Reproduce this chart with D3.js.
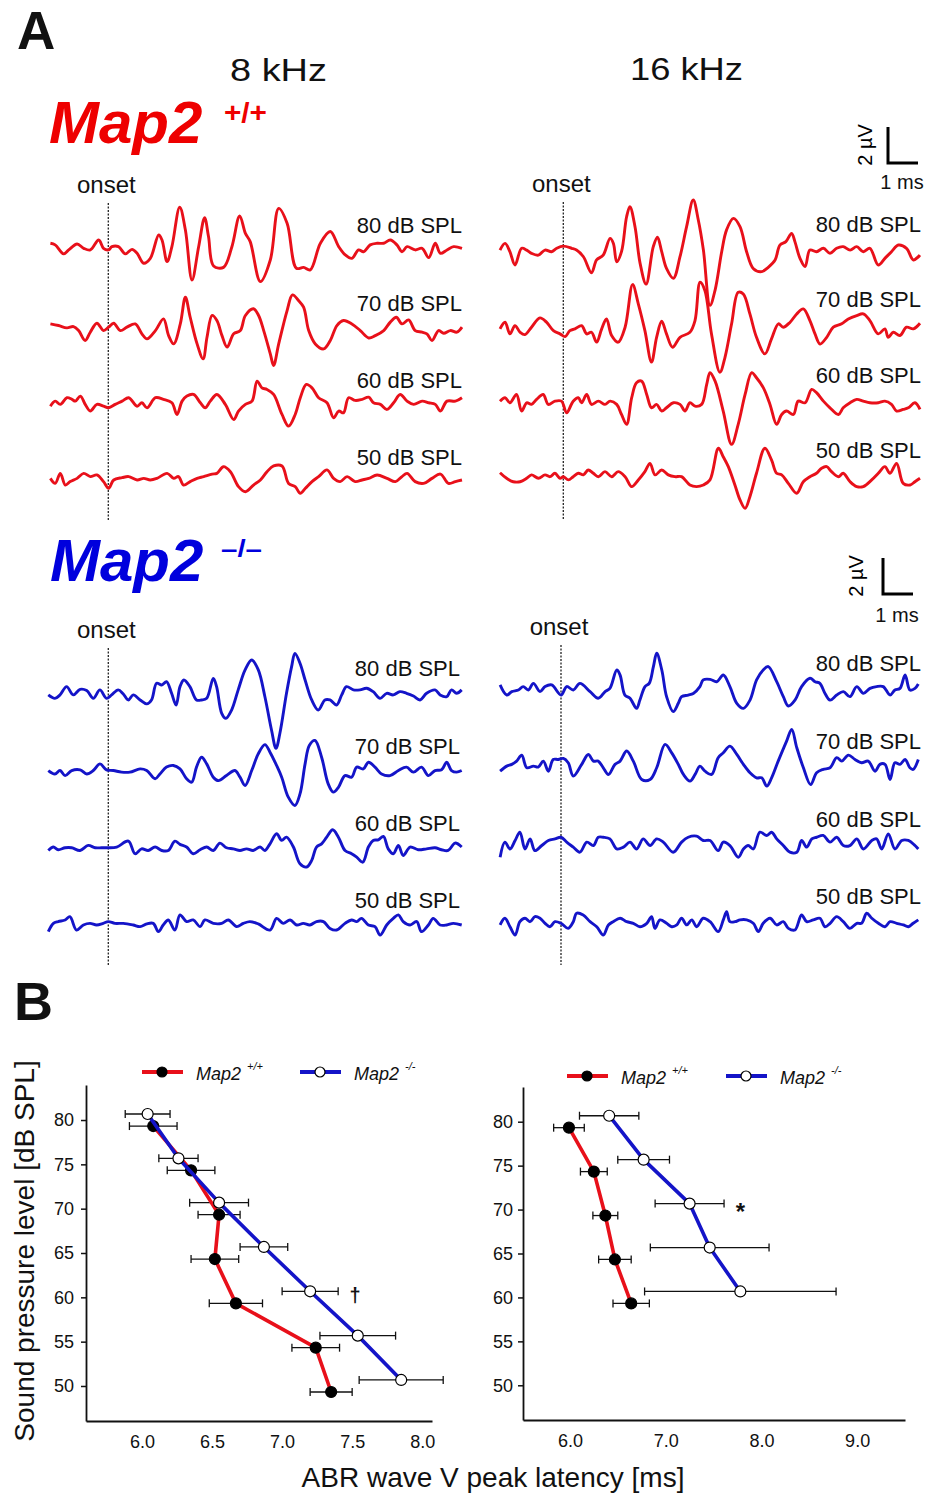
<!DOCTYPE html>
<html>
<head>
<meta charset="utf-8">
<title>Map2 ABR traces and wave V latency</title>
<style>
  body { margin: 0; background: #fff; }
  svg { display: block; font-family: "Liberation Sans", Arial, sans-serif; }
</style>
</head>
<body>
<script src="https://d3js.org/d3.v7.min.js"></script>
<script>
// ---------- panel A: ABR traces, [time ms from onset, amplitude uV] ----------
var levels = [80, 70, 60, 50];

var wt8_80 = [[-1.93,0.28],[-1.77,0.19],[-1.49,-0.31],[-1.32,-0.09],[-1.04,0.24],[-0.82,0],[-0.6,-0.09],[-0.32,0.46],[-0.16,0],[0.01,-0.09],[0.12,0.09],[0.34,0.09],[0.57,-0.31],[0.79,-0.06],[0.96,-0.28],[1.18,-0.83],[1.4,-0.56],[1.68,0.74],[1.79,0.46],[1.96,-0.74],[2.12,0.09],[2.38,2.28],[2.57,1.02],[2.79,-1.76],[3.01,0.07],[3.21,1.7],[3.34,0.65],[3.51,-0.98],[3.84,-1.06],[4.12,0.09],[4.38,1.8],[4.57,0.83],[4.73,0.37],[5.07,-1.85],[5.4,-0.65],[5.68,2.22],[5.96,1.39],[6.27,-1.11],[6.51,-1.06],[6.73,-1.2],[7.07,0.28],[7.4,0.93],[7.68,0.09],[7.9,-0.37],[8.12,-0.56],[8.34,-0.09],[8.51,-0.19],[8.73,0.19],[8.96,0.28],[9.18,0.28],[9.4,0.46],[9.62,0.19],[9.79,-0.19],[9.96,0.09],[10.23,-0.09],[10.46,0],[10.68,-0.52],[10.9,0.28],[11.07,-0.28],[11.29,-0.09],[11.51,0.09],[11.79,0]];
var wt8_70 = [[-1.93,0.09],[-1.66,0],[-1.38,-0.13],[-1.16,-0.06],[-0.99,-0.28],[-0.77,-0.83],[-0.6,-0.37],[-0.38,0.13],[-0.16,-0.28],[0.01,-0.09],[0.18,0.13],[0.4,-0.28],[0.62,-0.09],[0.9,0.09],[1.12,-0.46],[1.29,-0.74],[1.57,-0.28],[1.84,0.37],[2.01,-0.56],[2.18,-1.02],[2.4,0.09],[2.57,1.57],[2.73,0.46],[2.96,-1.02],[3.16,-1.85],[3.29,-0.65],[3.46,0.56],[3.62,0.28],[3.79,-0.56],[3.96,-1.2],[4.18,-0.46],[4.4,-0.28],[4.57,0.56],[4.84,0.93],[5.01,0.56],[5.18,-0.28],[5.4,-1.57],[5.51,-2.22],[5.68,-1.02],[5.96,0.83],[6.14,1.7],[6.34,1.39],[6.51,1.02],[6.68,-0.28],[6.9,-1.02],[7.18,-1.3],[7.4,-0.83],[7.62,0],[7.84,0.28],[8.12,0.09],[8.4,-0.28],[8.68,-0.69],[8.9,-0.56],[9.18,-0.28],[9.4,0.19],[9.6,0.46],[9.79,0.09],[10.01,0.31],[10.23,-0.28],[10.46,-0.37],[10.62,-0.46],[10.79,-0.83],[11.01,-0.28],[11.18,-0.43],[11.4,-0.28],[11.62,-0.37],[11.79,-0.09]];
var wt8_60 = [[-1.93,-0.19],[-1.77,0.09],[-1.6,-0.09],[-1.38,0.28],[-1.21,0.19],[-1.1,0.09],[-0.93,0.37],[-0.77,-0.09],[-0.6,-0.46],[-0.38,-0.09],[-0.16,-0.19],[0.01,-0.28],[0.23,-0.09],[0.46,0.09],[0.68,0.28],[0.96,-0.19],[1.12,0],[1.29,-0.28],[1.57,0.28],[1.84,0.19],[2.12,0],[2.29,-0.65],[2.46,0.09],[2.62,0.37],[2.84,0.46],[3.07,0],[3.23,-0.28],[3.4,0.09],[3.62,0.46],[3.9,-0.09],[4.18,-0.93],[4.34,-0.46],[4.57,-0.09],[4.79,0.09],[4.96,1.2],[5.12,0.83],[5.29,0.74],[5.51,0.46],[5.79,-0.65],[6.01,-1.3],[6.23,-0.65],[6.4,0.28],[6.6,1.02],[6.79,0.83],[7.01,0.28],[7.29,0],[7.51,-0.83],[7.68,-0.46],[7.84,-0.56],[8.01,0.28],[8.23,0.13],[8.46,0.19],[8.68,0.31],[8.84,0],[9.07,-0.09],[9.29,-0.37],[9.51,0],[9.73,0.46],[9.96,0.09],[10.18,-0.09],[10.46,0.09],[10.68,0],[10.9,-0.09],[11.07,-0.46],[11.29,0.09],[11.57,0.09],[11.79,0.28]];
var wt8_50 = [[-1.93,0.09],[-1.77,-0.19],[-1.6,0.37],[-1.43,-0.28],[-1.27,-0.09],[-1.04,0.09],[-0.82,0.37],[-0.6,0.19],[-0.38,0.28],[-0.16,-0.09],[0.01,-0.46],[0.18,0],[0.46,0.13],[0.68,0.19],[0.96,0],[1.18,0.09],[1.4,0],[1.62,0.09],[1.96,0.37],[2.18,0.09],[2.34,0.19],[2.51,-0.28],[2.73,-0.09],[2.96,0.09],[3.18,0.19],[3.46,0.33],[3.62,0.37],[3.84,0.74],[4.07,0.46],[4.34,-0.37],[4.57,-0.65],[4.84,-0.28],[5.07,0],[5.29,0.46],[5.51,0.78],[5.79,0.78],[6.01,-0.19],[6.23,-0.37],[6.4,-0.74],[6.57,-0.46],[6.79,-0.09],[7.01,0.19],[7.29,0.56],[7.51,0.09],[7.73,-0.09],[7.96,0.19],[8.23,-0.09],[8.46,0],[8.68,0.09],[8.96,0.28],[9.29,0.09],[9.57,-0.09],[9.79,0.19],[9.96,0.37],[10.23,-0.09],[10.51,-0.19],[10.79,0.09],[11.07,0.33],[11.34,-0.19],[11.57,-0.09],[11.79,0]];

var wt16_80 = [[-2.11,0.09],[-1.94,0.46],[-1.78,0],[-1.61,-0.74],[-1.39,0.19],[-1.22,0.09],[-1.06,-0.09],[-0.83,-0.19],[-0.61,0.09],[-0.39,0],[-0.22,0.19],[0,0.31],[0.28,0.19],[0.44,0.09],[0.67,-0.28],[0.94,-1.17],[1.11,-0.46],[1.33,-0.19],[1.56,0.74],[1.67,0.46],[1.78,-0.56],[1.94,0],[2.11,1.94],[2.22,2.5],[2.39,1.39],[2.56,-0.65],[2.76,-1.8],[3,0.28],[3.14,0.8],[3.28,0],[3.44,-0.93],[3.67,-1.48],[3.89,-0.28],[4.11,1.39],[4.33,2.87],[4.5,1.76],[4.67,0.09],[4.89,-2.98],[5.06,-2.13],[5.28,0],[5.44,1.2],[5.67,1.85],[5.89,1.39],[6.11,0],[6.33,-0.93],[6.61,-1.11],[6.83,-0.87],[7.06,-0.46],[7.22,0.37],[7.42,0.56],[7.61,1.02],[7.72,0.56],[7.89,-0.37],[8.06,-0.83],[8.22,0.09],[8.44,0],[8.67,0.19],[8.89,-0.09],[9.11,0.19],[9.33,0.28],[9.56,0.09],[9.78,0.28],[10,0],[10.22,0.19],[10.5,-0.74],[10.72,-0.37],[10.94,0],[11.17,0.37],[11.44,0.19],[11.67,-0.46],[11.89,-0.19]];
var wt16_70 = [[-2.11,-0.09],[-1.94,0.28],[-1.78,-0.37],[-1.61,0.09],[-1.44,-0.28],[-1.28,-0.41],[-1.06,0],[-0.78,0.52],[-0.56,0.28],[-0.33,-0.19],[-0.11,-0.37],[0.06,-0.52],[0.22,-0.19],[0.39,-0.09],[0.61,0.09],[0.78,-0.37],[0.94,-0.28],[1.11,-0.83],[1.28,-0.09],[1.44,0.46],[1.61,-0.46],[1.83,-0.83],[2.06,0],[2.31,2.37],[2.5,1.3],[2.72,-0.19],[2.94,-1.94],[3.11,-0.56],[3.28,0.33],[3.44,-0.37],[3.64,-1.11],[3.89,-0.56],[4.22,-0.28],[4.39,0.37],[4.56,2.5],[4.72,2.04],[4.94,-0.37],[5.22,-2.5],[5.39,-1.67],[5.61,0.19],[5.83,1.94],[6,1.85],[6.22,0.74],[6.44,-0.56],[6.72,-1.48],[6.94,-0.65],[7.17,0.19],[7.33,0],[7.56,0.28],[7.78,0.74],[8,1.02],[8.22,0.37],[8.39,-0.37],[8.56,-0.93],[8.78,-0.56],[9,0],[9.28,0.19],[9.5,0.46],[9.78,0.65],[10,0.74],[10.22,0.37],[10.5,-0.37],[10.72,-0.09],[10.83,-0.56],[11,-0.28],[11.22,-0.46],[11.44,0],[11.67,-0.09],[11.89,0.22]];
var wt16_60 = [[-2.11,0.09],[-1.94,0.28],[-1.78,0],[-1.56,0.46],[-1.39,-0.46],[-1.22,0],[-1.06,-0.09],[-0.89,0.19],[-0.67,0.46],[-0.5,-0.09],[-0.28,0.09],[-0.06,0.09],[0.11,-0.56],[0.33,0.09],[0.5,0.28],[0.61,0],[0.78,0.46],[0.94,-0.09],[1.17,0.09],[1.39,-0.09],[1.56,0.09],[1.78,-0.09],[1.94,-0.65],[2.11,-1.2],[2.28,0.28],[2.44,1.11],[2.61,1.2],[2.78,0.46],[2.94,-0.28],[3.11,-0.09],[3.28,-0.46],[3.44,-0.28],[3.67,0],[3.89,-0.09],[4.06,-0.46],[4.22,0],[4.39,-0.19],[4.61,-0.09],[4.78,1.02],[4.89,1.67],[5.06,1.2],[5.33,-0.46],[5.61,-2.31],[5.83,-1.2],[6.06,0.46],[6.28,1.67],[6.44,1.39],[6.67,0.83],[6.89,-0.09],[7.11,-1.2],[7.28,-0.65],[7.44,-0.46],[7.67,-0.65],[7.83,0.09],[8.06,0],[8.28,0.74],[8.44,0.56],[8.67,0.09],[8.89,-0.28],[9.17,-0.65],[9.33,-0.28],[9.56,0],[9.78,0.19],[10,0.09],[10.22,0],[10.5,0],[10.72,0.09],[10.94,-0.09],[11.11,-0.46],[11.33,-0.37],[11.5,-0.28],[11.72,0],[11.89,-0.37]];
var wt16_50 = [[-2.11,0.31],[-1.89,0],[-1.67,-0.19],[-1.44,-0.19],[-1.22,0],[-1.06,0.19],[-0.83,0],[-0.61,0.19],[-0.44,0.09],[-0.28,0.28],[-0.11,0],[0,0.09],[0.17,-0.09],[0.33,0.09],[0.5,0.28],[0.67,0.19],[0.83,0.46],[1,0.28],[1.17,0.09],[1.39,0.37],[1.61,0.09],[1.83,0.37],[2.06,0.09],[2.28,-0.46],[2.5,-0.09],[2.72,0.37],[2.89,0.83],[3.06,0.19],[3.28,0.46],[3.5,0.19],[3.72,0.09],[3.94,0.09],[4.22,-0.37],[4.44,-0.46],[4.67,-0.37],[4.89,-0.09],[5.17,1.67],[5.33,1.2],[5.5,0.65],[5.72,-0.37],[5.89,-1.2],[6.06,-1.67],[6.22,-1.02],[6.44,0.28],[6.72,1.67],[6.94,1.02],[7.11,0.28],[7.28,0.19],[7.5,-0.28],[7.78,-0.83],[8,-0.19],[8.22,0.09],[8.44,0.28],[8.61,0.56],[8.78,0.65],[8.94,0.37],[9.17,0.09],[9.33,0.28],[9.56,-0.19],[9.78,-0.46],[10,-0.46],[10.28,-0.09],[10.5,0.28],[10.72,0.65],[10.89,0.28],[11.11,0.83],[11.33,-0.28],[11.56,-0.37],[11.72,-0.19],[11.89,0]];

var ko8_80 = [[-2,-0.09],[-1.78,-0.28],[-1.61,-0.09],[-1.39,0.37],[-1.17,-0.09],[-0.94,0.22],[-0.72,0.15],[-0.5,-0.28],[-0.28,0.19],[-0.06,-0.28],[0.11,-0.09],[0.33,0.19],[0.5,-0.04],[0.67,-0.37],[0.83,-0.09],[1.06,-0.37],[1.28,-0.59],[1.44,-0.37],[1.61,0.56],[1.78,0.46],[1.94,0.65],[2.11,0],[2.26,-0.65],[2.39,0.37],[2.52,0.74],[2.72,0.37],[2.94,-0.37],[3.11,-0.37],[3.28,-0.28],[3.5,0.83],[3.61,0.37],[3.78,-1.11],[3.92,-1.39],[4.11,-0.93],[4.33,0.19],[4.56,1.3],[4.78,1.85],[5,1.3],[5.22,-0.19],[5.44,-2.04],[5.59,-3.06],[5.72,-2.22],[5.94,0],[6.11,1.48],[6.22,2.22],[6.39,1.67],[6.56,0.74],[6.78,-0.37],[7,-0.93],[7.22,-0.37],[7.39,-0.37],[7.61,-0.65],[7.78,-0.09],[7.94,0.37],[8.17,0.19],[8.39,0.19],[8.61,0.28],[8.83,0.09],[9.06,-0.28],[9.28,0],[9.5,-0.09],[9.72,0.09],[9.94,0],[10.17,-0.15],[10.39,-0.37],[10.61,0],[10.89,0.19],[11.06,-0.09],[11.28,-0.19],[11.44,0.19],[11.61,0],[11.78,0.19]];
var ko8_70 = [[-2,0],[-1.78,-0.19],[-1.61,0],[-1.44,-0.28],[-1.22,0],[-0.94,0.04],[-0.72,-0.19],[-0.5,0],[-0.28,0.37],[-0.06,0.04],[0.17,0],[0.44,-0.09],[0.72,-0.09],[1.06,0.09],[1.28,0],[1.56,-0.46],[1.72,-0.19],[1.94,0.19],[2.17,0.28],[2.39,0.09],[2.61,-0.46],[2.78,-0.65],[2.94,0.19],[3.11,0.74],[3.28,0.37],[3.5,-0.37],[3.67,-0.56],[3.94,-0.28],[4.22,0],[4.39,-0.37],[4.56,-0.83],[4.78,0],[5,0.93],[5.22,1.44],[5.39,1.02],[5.61,0.28],[5.78,-0.37],[6,-1.48],[6.22,-1.94],[6.39,-1.3],[6.56,0.37],[6.7,1.39],[6.89,1.67],[7.11,0.74],[7.33,-0.74],[7.5,-1.2],[7.67,-0.93],[7.89,-0.28],[8.11,-0.37],[8.28,0.19],[8.5,0.09],[8.67,0.46],[8.89,0.19],[9.11,-0.19],[9.39,-0.28],[9.67,0],[9.94,0.19],[10.17,-0.09],[10.44,0.19],[10.67,-0.28],[10.89,0],[11.11,0.04],[11.28,0.46],[11.44,0],[11.61,-0.09],[11.78,0]];
var ko8_60 = [[-2,-0.15],[-1.83,0.04],[-1.67,-0.11],[-1.44,0],[-1.22,0],[-0.94,-0.15],[-0.67,0.13],[-0.44,0],[-0.22,0],[0,0],[0.28,0.04],[0.67,0.37],[0.89,-0.33],[1.11,-0.06],[1.33,-0.15],[1.56,0.04],[1.78,-0.15],[2,-0.15],[2.22,0.37],[2.39,0.19],[2.61,0.04],[2.83,-0.33],[3.06,-0.11],[3.28,0.04],[3.5,-0.15],[3.72,0.26],[3.94,0],[4.17,-0.06],[4.39,-0.15],[4.61,-0.06],[4.83,-0.15],[5.06,0.04],[5.22,-0.15],[5.39,0.22],[5.61,0.78],[5.78,0.41],[5.94,0.59],[6.17,0.04],[6.39,-0.89],[6.61,-1.07],[6.78,-0.7],[6.94,0.04],[7.11,0.22],[7.28,0.59],[7.48,1],[7.67,0.59],[7.89,-0.15],[8.11,-0.33],[8.28,-0.52],[8.48,-0.8],[8.67,0.04],[8.83,0.41],[9,0.44],[9.17,0.63],[9.33,-0.06],[9.5,-0.33],[9.67,0.13],[9.83,-0.43],[10.06,0.04],[10.33,-0.11],[10.61,-0.06],[10.89,0],[11.11,-0.11],[11.33,-0.15],[11.56,0.26],[11.78,0.04]];
var ko8_50 = [[-2,-0.37],[-1.83,0.09],[-1.67,0.19],[-1.44,0.28],[-1.28,0.46],[-1.06,-0.28],[-0.83,0],[-0.61,0.09],[-0.39,0],[-0.17,0.09],[0,0.19],[0.22,0.09],[0.5,0.09],[0.83,0],[1.06,-0.09],[1.28,0.06],[1.5,0.09],[1.67,-0.37],[1.83,0],[2,0.28],[2.22,-0.28],[2.39,0.56],[2.61,0.19],[2.83,0.28],[3.06,-0.09],[3.22,0.28],[3.5,0.09],[3.78,0.09],[4,0.28],[4.28,-0.09],[4.5,0.09],[4.72,0.19],[5,0.06],[5.39,-0.28],[5.61,0.37],[5.83,0.09],[6.06,0.28],[6.28,0],[6.5,0.09],[6.72,0],[6.94,0.19],[7.17,0.19],[7.39,-0.19],[7.61,-0.28],[7.89,0.09],[8.11,0.28],[8.28,0.19],[8.44,0.37],[8.67,0],[8.89,-0.09],[9.06,-0.56],[9.28,0],[9.5,0.37],[9.67,0.56],[9.83,0.19],[10.06,0],[10.28,0.19],[10.44,-0.37],[10.67,0],[10.83,0.37],[11.06,0],[11.28,0],[11.5,0.09],[11.78,0]];

var ko16_80 = [[-2.03,0.28],[-1.81,-0.28],[-1.64,-0.09],[-1.42,0],[-1.26,0.19],[-1.09,0],[-0.92,0.37],[-0.7,-0.09],[-0.53,0.19],[-0.31,0.28],[0,-0.28],[0.19,0.19],[0.41,0],[0.63,0.37],[0.97,-0.09],[1.24,-0.46],[1.47,-0.09],[1.63,0.09],[1.86,1.11],[1.97,0.83],[2.13,-0.28],[2.3,-0.46],[2.52,-1.02],[2.63,-0.56],[2.8,0.19],[2.94,0.37],[3.08,1.3],[3.19,2.04],[3.36,1.11],[3.52,-0.37],[3.74,-1.2],[3.91,-0.74],[4.02,-0.37],[4.24,-0.28],[4.41,-0.19],[4.63,0.19],[4.74,0.56],[4.97,0.59],[5.19,0.46],[5.41,0.83],[5.63,0.19],[5.86,-0.74],[6.08,-1.02],[6.3,-0.56],[6.52,0.56],[6.74,1.11],[6.91,1.3],[7.19,0.46],[7.41,-0.37],[7.58,-0.89],[7.8,-0.56],[8.02,0.19],[8.3,0.65],[8.47,0.46],[8.63,0.37],[8.8,-0.19],[8.97,-0.56],[9.19,-0.28],[9.41,-0.09],[9.63,-0.37],[9.86,0.19],[10.08,-0.19],[10.3,0.09],[10.52,0.19],[10.74,0.19],[10.97,-0.28],[11.13,0],[11.3,0.09],[11.47,0.83],[11.63,0],[11.8,0.09],[11.91,0.33]];
var ko16_70 = [[-2.03,-0.19],[-1.81,0.09],[-1.64,0.19],[-1.48,0.37],[-1.31,0.7],[-1.14,0],[-0.92,0.09],[-0.76,0.04],[-0.59,0.37],[-0.42,-0.19],[-0.26,0.46],[-0.09,0.46],[0.08,0.52],[0.24,0.28],[0.41,-0.46],[0.69,0.19],[0.91,0.74],[1.08,0.37],[1.24,0.37],[1.41,0],[1.58,-0.37],[1.8,0.19],[1.97,0.37],[2.19,0.93],[2.41,0.37],[2.69,-0.65],[2.97,-0.65],[3.19,0],[3.47,1.3],[3.69,0.83],[3.91,0.19],[4.08,-0.37],[4.3,-0.74],[4.47,-0.37],[4.63,0.09],[4.8,-0.19],[5.02,-0.37],[5.24,0.56],[5.41,0.83],[5.63,1.2],[5.86,0.74],[6.08,0.19],[6.3,-0.28],[6.52,-0.56],[6.69,-0.56],[6.86,-1.02],[7.02,-0.56],[7.24,0.37],[7.52,1.48],[7.69,2.13],[7.86,1.11],[8.08,0],[8.32,-0.93],[8.52,-0.28],[8.74,-0.09],[8.97,0],[9.19,0.56],[9.36,0.37],[9.58,0.7],[9.8,0.46],[10.02,0.28],[10.24,0.37],[10.47,-0.19],[10.63,0.19],[10.8,0.19],[10.97,-0.65],[11.13,0.28],[11.3,0.19],[11.47,0.46],[11.63,0],[11.74,-0.09],[11.91,0.46]];
var ko16_60 = [[-2.03,-0.65],[-1.87,0.19],[-1.7,-0.19],[-1.53,0.28],[-1.37,0.74],[-1.2,-0.19],[-1.03,0.37],[-0.87,-0.28],[-0.64,0],[-0.42,0.28],[-0.2,0.37],[0,0.46],[0.19,0.19],[0.41,-0.09],[0.63,-0.37],[0.86,0.19],[1.08,0],[1.24,0.46],[1.41,0.46],[1.63,0.37],[1.86,-0.19],[2.08,-0.09],[2.3,0.19],[2.52,-0.19],[2.74,0.37],[2.97,0],[3.19,0.37],[3.41,0.19],[3.74,-0.37],[4.02,0.19],[4.24,0.46],[4.52,0.52],[4.74,0.28],[4.97,0.28],[5.24,-0.28],[5.41,0.19],[5.63,0],[5.91,-0.65],[6.08,-0.19],[6.24,0],[6.41,-0.19],[6.63,0.74],[6.86,0.56],[7.02,0.74],[7.19,0.37],[7.41,0],[7.63,-0.37],[7.86,-0.37],[8.02,0.28],[8.19,-0.09],[8.36,0.37],[8.52,0.46],[8.74,0.56],[8.97,0.19],[9.19,0.46],[9.41,0],[9.63,0],[9.86,0.37],[10.08,-0.19],[10.36,0.28],[10.52,0.37],[10.69,-0.19],[10.91,0.65],[11.13,-0.19],[11.36,0.28],[11.58,0.28],[11.8,0],[11.91,-0.19]];
var ko16_50 = [[-2.03,-0.09],[-1.87,0.28],[-1.7,-0.19],[-1.53,-0.65],[-1.37,0.09],[-1.2,0.28],[-1.03,0.09],[-0.87,0.37],[-0.7,0.28],[-0.53,0],[-0.37,-0.19],[-0.2,0.09],[0,0],[0.24,-0.28],[0.41,0.09],[0.52,0.56],[0.74,0.46],[0.97,0.09],[1.19,-0.19],[1.41,-0.65],[1.58,-0.09],[1.74,0.09],[1.97,0.28],[2.19,0.09],[2.41,0],[2.63,-0.19],[2.86,0],[3.02,0.37],[3.13,-0.28],[3.3,0.19],[3.52,0],[3.69,-0.19],[3.86,-0.09],[4.02,0.28],[4.19,-0.09],[4.36,0.19],[4.52,-0.19],[4.74,0.28],[4.97,0.09],[5.24,-0.46],[5.41,0.19],[5.52,0.65],[5.63,0.09],[5.8,0.09],[5.97,0.19],[6.19,0.19],[6.41,0],[6.58,-0.46],[6.74,0],[6.97,0.28],[7.19,-0.09],[7.41,0.09],[7.58,-0.28],[7.8,-0.37],[8.02,0.46],[8.19,0.09],[8.41,0.19],[8.63,0.28],[8.8,-0.19],[8.97,0],[9.19,0.37],[9.41,0.09],[9.63,-0.28],[9.86,0],[10.02,0],[10.19,0.56],[10.36,0.28],[10.58,0],[10.8,-0.19],[10.97,0.09],[11.19,0],[11.41,-0.09],[11.58,-0.19],[11.74,0],[11.91,0.19]];

// ---------- panel B: wave V peak latency (ms), mean and SEM ----------
var levels8 = [80, 75, 70, 65, 60, 55, 50];
var lat8WT = [6.08, 6.35, 6.55, 6.52, 6.67, 7.24, 7.35];
var sem8WT = [0.17, 0.17, 0.15, 0.17, 0.19, 0.17, 0.15];
var lat8KO = [6.04, 6.26, 6.55, 6.87, 7.20, 7.54, 7.85];
var sem8KO = [0.16, 0.14, 0.21, 0.17, 0.20, 0.27, 0.30];

var levels16 = [80, 75, 70, 65, 60];
var lat16WT = [5.99, 6.25, 6.37, 6.47, 6.64];
var sem16WT = [0.16, 0.14, 0.13, 0.17, 0.19];
var lat16KO = [6.41, 6.77, 7.25, 7.46, 7.78];
var sem16KO = [0.31, 0.27, 0.36, 0.62, 1.00];

var splTicks = [50, 55, 60, 65, 70, 75, 80];
var latTicks8 = [6.0, 6.5, 7.0, 7.5, 8.0];
var latTicks16 = [6.0, 7.0, 8.0, 9.0];

// ---------- drawing ----------
var RED = "#e8101a", BLUE = "#1414c8";
var MS_PX = 30, UV_PX = 18;   // trace scale: px per ms, px per uV

var svg = d3.select("body").append("svg")
    .attr("width", 935)
    .attr("height", 1498);
svg.append("rect").attr("width", 935).attr("height", 1498).attr("fill", "#fff");

function txt(x, y, s, size, opts) {
  opts = opts || {};
  var t = svg.append("text")
      .attr("x", x).attr("y", y)
      .attr("text-anchor", opts.anchor || "start")
      .style("font-size", size + "px")
      .style("font-weight", opts.weight || "normal")
      .style("font-style", opts.style || "normal")
      .attr("fill", opts.fill || "#111")
      .text(s);
  if (opts.len) t.attr("textLength", opts.len).attr("lengthAdjust", "spacingAndGlyphs");
  return t;
}

txt(17, 49, "A", 53, {weight: "bold"});
txt(230, 81, "8 kHz", 31, {len: 97});
txt(630, 80, "16 kHz", 31, {len: 113});
txt(49, 143, "Map2", 60, {weight: "bold", style: "italic", fill: "#ee0000"});
txt(224, 122, "+/+", 27, {weight: "bold", fill: "#ee0000", len: 43});
txt(50, 581, "Map2", 60, {weight: "bold", style: "italic", fill: "#0000dd"});
txt(221, 557, "\u2013/\u2013", 24, {weight: "bold", fill: "#0000dd", len: 41});

function drawTraces(cfg) {
  var x = d3.scaleLinear().domain([0, 1]).range([cfg.onsetX, cfg.onsetX + MS_PX]);
  var v = d3.scaleLinear().domain([0, 1]).range([0, -UV_PX]);
  var row = d3.scalePoint().domain(levels).range([cfg.rowTop, cfg.rowBottom]);
  var g = svg.append("g");

  g.append("line")
      .attr("x1", x(0)).attr("x2", x(0))
      .attr("y1", cfg.onsetTop).attr("y2", cfg.onsetBottom)
      .attr("stroke", "#222").attr("stroke-width", 1.3)
      .attr("stroke-dasharray", "2,1.5");
  txt(x(0) - 2, cfg.onsetTop - 10, "onset", 24, {anchor: "middle"});

  cfg.traces.forEach(function(tr, i) {
    var lv = levels[i];
    var line = d3.line()
        .x(function(d){ return x(d[0]); })
        .y(function(d){ return row(lv) + v(d[1]); })
        .curve(d3.curveCatmullRom.alpha(0.5));
    g.append("path")
        .attr("d", line(tr))
        .attr("fill", "none")
        .attr("stroke", cfg.color)
        .attr("stroke-width", 2.9)
        .attr("stroke-linejoin", "round");
    txt(cfg.labelX, row(lv) + cfg.labelDy, lv + " dB SPL", 22, {anchor: "end"});
  });
}

function scaleBar(cx, cy, textDx, msDy) {
  var xs = d3.scaleLinear().domain([0, 1]).range([0, MS_PX]);
  var vs = d3.scaleLinear().domain([0, 2]).range([0, UV_PX * 2]);
  svg.append("path")
      .attr("d", "M" + cx + "," + (cy - vs(2)) + "V" + cy + "H" + (cx + xs(1)))
      .attr("fill", "none").attr("stroke", "#000").attr("stroke-width", 3);
  svg.append("text")
      .attr("transform", "translate(" + (cx + textDx) + "," + (cy - vs(2) / 2) + ") rotate(-90)")
      .attr("text-anchor", "middle")
      .style("font-size", "20px")
      .text("2 \u00b5V");
  txt(cx + 14, cy + msDy, "1 ms", 20, {anchor: "middle"});
}

drawTraces({traces: [wt8_80, wt8_70, wt8_60, wt8_50], color: RED, onsetX: 108.3,
  rowTop: 248.3, rowBottom: 480, onsetTop: 203, onsetBottom: 520, labelX: 462, labelDy: -15});
drawTraces({traces: [wt16_80, wt16_70, wt16_60, wt16_50], color: RED, onsetX: 563.3,
  rowTop: 251.7, rowBottom: 478.3, onsetTop: 202, onsetBottom: 520, labelX: 921, labelDy: -20});
drawTraces({traces: [ko8_80, ko8_70, ko8_60, ko8_50], color: BLUE, onsetX: 108.3,
  rowTop: 693.3, rowBottom: 925, onsetTop: 648, onsetBottom: 965, labelX: 460, labelDy: -17});
drawTraces({traces: [ko16_80, ko16_70, ko16_60, ko16_50], color: BLUE, onsetX: 561,
  rowTop: 690, rowBottom: 923.3, onsetTop: 645, onsetBottom: 965, labelX: 921, labelDy: -19});

scaleBar(888, 163, -16, 26);
scaleBar(883, 594, -20, 28);

// ---------- panel B ----------
txt(14, 1020, "B", 54, {weight: "bold"});

svg.append("text")
    .attr("transform", "translate(34,1251) rotate(-90)")
    .attr("text-anchor", "middle")
    .style("font-size", "28px")
    .attr("fill", "#111")
    .text("Sound pressure level [dB SPL]");
txt(493, 1487, "ABR wave V peak latency [ms]", 28, {anchor: "middle"});

var DODGE = 0.68;   // vertical offset (dB) between genotypes at the same level

function latencyChart(cfg) {
  var x = d3.scaleLinear().domain(cfg.xDomain).range([cfg.left, cfg.right]);
  var y = d3.scaleLinear().domain([46.05, 83.95]).range([cfg.bottom, cfg.top]);
  var g = svg.append("g");

  var xa = g.append("g")
      .attr("transform", "translate(0," + cfg.bottom + ")")
      .call(d3.axisBottom(x).tickValues(cfg.xTicks).tickFormat(d3.format(".1f"))
            .tickSize(0).tickSizeOuter(0).tickPadding(14));
  var ya = g.append("g")
      .attr("transform", "translate(" + cfg.left + ",0)")
      .call(d3.axisLeft(y).tickValues(splTicks).tickSize(5).tickSizeOuter(0).tickPadding(cfg.yPad));
  [xa, ya].forEach(function(a) {
    a.select(".domain").attr("stroke", "#111").attr("stroke-width", 1.8);
    a.selectAll(".tick line").attr("stroke", "#111").attr("stroke-width", 1.5);
    a.selectAll(".tick text")
        .attr("fill", "#111")
        .style("font-size", "18px")
        .style("font-family", "'Liberation Sans', Arial, sans-serif");
  });

  var series = [
    {lat: cfg.latWT, sem: cfg.semWT, color: RED, fill: "#000", dodge: -DODGE},
    {lat: cfg.latKO, sem: cfg.semKO, color: BLUE, fill: "#fff", dodge: DODGE}
  ].map(function(s) {
    s.pts = cfg.levels.map(function(lv, i) {
      return {lat: s.lat[i], sem: s.sem[i], level: lv + s.dodge};
    });
    return s;
  });

  // error bars
  series.forEach(function(s) {
    var eb = g.append("g").selectAll("g").data(s.pts).enter().append("g")
        .attr("stroke", "#111").attr("stroke-width", 1.3);
    eb.append("line")
        .attr("x1", function(d){ return x(d.lat - d.sem); })
        .attr("x2", function(d){ return x(d.lat + d.sem); })
        .attr("y1", function(d){ return y(d.level); })
        .attr("y2", function(d){ return y(d.level); });
    [-1, 1].forEach(function(sign) {
      eb.append("line")
          .attr("x1", function(d){ return x(d.lat + sign * d.sem); })
          .attr("x2", function(d){ return x(d.lat + sign * d.sem); })
          .attr("y1", function(d){ return y(d.level) - 4; })
          .attr("y2", function(d){ return y(d.level) + 4; });
    });
  });

  var line = d3.line()
      .x(function(d){ return x(d.lat); })
      .y(function(d){ return y(d.level); });
  series.forEach(function(s) {
    g.append("path")
        .attr("d", line(s.pts))
        .attr("fill", "none")
        .attr("stroke", s.color)
        .attr("stroke-width", 3.6)
        .attr("stroke-linejoin", "round");
    g.append("g").selectAll("circle").data(s.pts).enter().append("circle")
        .attr("cx", function(d){ return x(d.lat); })
        .attr("cy", function(d){ return y(d.level); })
        .attr("r", 5.5)
        .attr("fill", s.fill)
        .attr("stroke", "#000")
        .attr("stroke-width", 1.2);
  });

  // significance marks
  cfg.marks.forEach(function(m) {
    txt(x(m.lat), y(m.level) + 7, m.text, m.size, {anchor: "middle", weight: "bold"});
  });

  // legend
  var lg = svg.append("g");
  [{color: RED, fill: "#000", sup: "+/+", x0: cfg.legendX[0]},
   {color: BLUE, fill: "#fff", sup: "-/-", x0: cfg.legendX[1]}].forEach(function(it) {
    var ly = cfg.legendY;
    lg.append("line").attr("x1", it.x0).attr("x2", it.x0 + 41)
        .attr("y1", ly).attr("y2", ly)
        .attr("stroke", it.color).attr("stroke-width", 4);
    lg.append("circle").attr("cx", it.x0 + 20).attr("cy", ly).attr("r", 5)
        .attr("fill", it.fill).attr("stroke", "#000").attr("stroke-width", 1.2);
    txt(it.x0 + 54, ly + 8, "Map2", 18, {style: "italic"});
    txt(it.x0 + 105, ly - 2, it.sup, 11, {style: "italic"});
  });
}

latencyChart({
  xDomain: [5.6, 8.07], left: 86, right: 432, top: 1085, bottom: 1421, yPad: 7,
  xTicks: latTicks8, levels: levels8,
  latWT: lat8WT, semWT: sem8WT, latKO: lat8KO, semKO: sem8KO,
  marks: [{text: "\u2020", lat: 7.52, level: 60.3, size: 20}],
  legendX: [142, 300], legendY: 1072
});
latencyChart({
  xDomain: [5.51, 9.5], left: 523, right: 905, top: 1087, bottom: 1420, yPad: 5,
  xTicks: latTicks16, levels: levels16,
  latWT: lat16WT, semWT: sem16WT, latKO: lat16KO, semKO: sem16KO,
  marks: [{text: "*", lat: 7.78, level: 69.6, size: 24}],
  legendX: [567, 726], legendY: 1076
});
</script>
</body>
</html>
